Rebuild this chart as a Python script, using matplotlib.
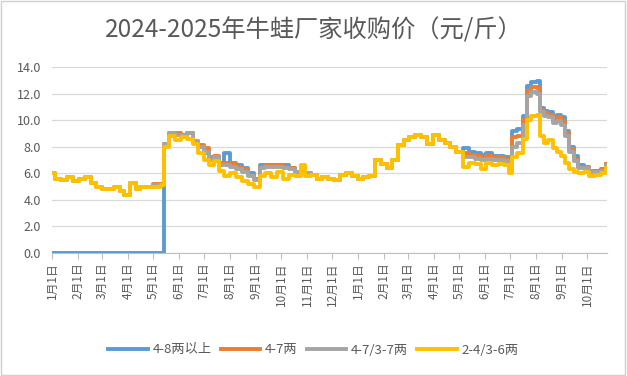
import matplotlib
matplotlib.use("Agg")
import matplotlib.pyplot as plt
import matplotlib.dates as mdates
from matplotlib.patches import Rectangle
import pandas as pd

plt.rcParams['font.family'] = ['Noto Sans CJK SC', 'DejaVu Sans']

title = "2024-2025年牛蛙厂家收购价（元/斤）"
series_names = ["4-8两以上", "4-7两", "4-7/3-7两", "2-4/3-6两"]
colors = ["#5B9BD5", "#ED7D31", "#A5A5A5", "#FFC000"]

dates = [
    "2024-01-01", "2024-01-04", "2024-01-12", "2024-01-19", "2024-01-26",
    "2024-02-02", "2024-02-09", "2024-02-16", "2024-02-23", "2024-03-01",
    "2024-03-08", "2024-03-15", "2024-03-22", "2024-03-27", "2024-04-03",
    "2024-04-10", "2024-04-15", "2024-04-24", "2024-05-01", "2024-05-10",
    "2024-05-14", "2024-05-20", "2024-05-27", "2024-06-03", "2024-06-10",
    "2024-06-17", "2024-06-24", "2024-07-01", "2024-07-06", "2024-07-12",
    "2024-07-18", "2024-07-25", "2024-08-01", "2024-08-08", "2024-08-15",
    "2024-08-22", "2024-08-29", "2024-09-05", "2024-09-12", "2024-09-19",
    "2024-09-26", "2024-10-03", "2024-10-10", "2024-10-17", "2024-10-24",
    "2024-10-29", "2024-11-05", "2024-11-12", "2024-11-19", "2024-11-26",
    "2024-12-03", "2024-12-10", "2024-12-17", "2024-12-24", "2024-12-31",
    "2025-01-07", "2025-01-14", "2025-01-21", "2025-01-28", "2025-02-04",
    "2025-02-10", "2025-02-17", "2025-02-24", "2025-03-03", "2025-03-10",
    "2025-03-17", "2025-03-24", "2025-03-31", "2025-04-07", "2025-04-14",
    "2025-04-21", "2025-04-28", "2025-05-06", "2025-05-13", "2025-05-20",
    "2025-05-27", "2025-06-03", "2025-06-10", "2025-06-17", "2025-06-24",
    "2025-06-30", "2025-07-03", "2025-07-10", "2025-07-17", "2025-07-22",
    "2025-07-26", "2025-08-02", "2025-08-06", "2025-08-11", "2025-08-16",
    "2025-08-21", "2025-08-26", "2025-08-31", "2025-09-05", "2025-09-10",
    "2025-09-15", "2025-09-20", "2025-09-27", "2025-10-04", "2025-10-11",
    "2025-10-18", "2025-10-24",
]

yellow = [
    6.0, 5.6, 5.5, 5.7, 5.4,
    5.6, 5.7, 5.3, 5.0, 4.8,
    4.8, 5.0, 4.7, 4.4, 5.3,
    4.8, 5.0, 5.0, 5.0, 5.1,
    8.0, 8.8, 8.5, 8.7, 8.6,
    8.2, 7.5, 7.0, 6.6, 6.9,
    6.2, 5.8, 6.0, 5.7, 5.4,
    5.2, 5.0, 5.8, 6.0, 5.7,
    6.1, 5.6, 5.9, 5.8, 6.6,
    5.8, 5.9, 5.6, 5.7, 5.6,
    5.5, 5.9, 6.0, 5.8, 5.6,
    5.7, 5.8, 7.0, 6.7, 6.4,
    7.0, 8.1, 8.5, 8.7, 8.9,
    8.7, 8.2, 8.9, 8.5, 8.3,
    8.0, 7.6, 6.5, 6.8, 6.7,
    6.3, 6.8, 6.6, 6.7, 6.6,
    6.0, 7.2, 7.5, 8.6, 10.0,
    10.3, 10.4, 8.8, 8.3, 8.5,
    7.9, 7.6, 7.3, 6.8, 6.3,
    6.1, 6.0, 6.1, 5.8, 5.9,
    6.0, 6.4,
]

gray = [
    6.0, 5.6, 5.5, 5.7, 5.4,
    5.6, 5.7, 5.3, 5.0, 4.8,
    4.8, 5.0, 4.7, 4.4, 5.3,
    4.8, 5.0, 5.0, 5.1, 5.1,
    8.2, 9.0, 8.9, 8.9, 9.0,
    8.4, 8.0, 7.6, 7.0, 7.2,
    6.6, 6.6, 6.5, 6.3, 6.1,
    5.8, 5.5, 6.4, 6.5, 6.5,
    6.5, 6.4, 6.3, 6.1, 6.1,
    6.0, 5.9, 5.6, 5.7, 5.6,
    5.5, 5.9, 6.0, 5.8, 5.6,
    5.7, 5.8, 7.0, 6.7, 6.4,
    7.0, 8.1, 8.5, 8.7, 8.9,
    8.7, 8.2, 8.9, 8.5, 8.3,
    8.0, 7.6, 7.2, 7.2, 7.1,
    7.0, 7.1, 7.0, 7.0, 6.9,
    6.8, 8.0, 8.3, 9.6, 11.8,
    12.1, 12.0, 10.6, 10.3, 10.2,
    9.8, 9.9, 9.6, 8.8, 7.6,
    6.9, 6.4, 6.4, 6.1, 6.1,
    6.2, 6.6,
]

orange = [
    6.0, 5.6, 5.5, 5.7, 5.4,
    5.6, 5.7, 5.3, 5.0, 4.8,
    4.8, 5.0, 4.7, 4.4, 5.3,
    4.8, 5.0, 5.0, 5.2, 5.2,
    8.2, 9.0, 9.0, 8.9, 9.0,
    8.4, 8.1, 7.9, 7.2, 7.3,
    6.8, 6.8, 6.7, 6.5, 6.3,
    5.9, 5.6, 6.5, 6.6, 6.6,
    6.6, 6.5, 6.4, 6.1, 6.1,
    6.0, 5.9, 5.6, 5.7, 5.6,
    5.5, 5.9, 6.0, 5.8, 5.6,
    5.7, 5.8, 7.0, 6.7, 6.4,
    7.0, 8.1, 8.5, 8.7, 8.9,
    8.7, 8.2, 8.9, 8.5, 8.3,
    8.0, 7.6, 7.5, 7.4, 7.3,
    7.2, 7.3, 7.2, 7.2, 7.1,
    6.9, 8.7, 8.8, 10.0, 12.2,
    12.5, 12.4, 10.8, 10.5, 10.4,
    10.1, 10.2, 9.9, 9.0, 7.8,
    7.0, 6.5, 6.5, 6.2, 6.2,
    6.3, 6.7,
]

blue = [
    0.0, 0.0, 0.0, 0.0, 0.0,
    0.0, 0.0, 0.0, 0.0, 0.0,
    0.0, 0.0, 0.0, 0.0, 0.0,
    0.0, 0.0, 0.0, 0.0, 0.0,
    8.2, 9.0, 8.9, 8.9, 9.0,
    8.4, 8.0, 7.5, 7.0, 7.2,
    6.8, 7.5, 6.8, 6.6, 6.4,
    6.0, 5.6, 6.6, 6.6, 6.6,
    6.6, 6.6, 6.4, 6.1, 6.1,
    6.0, 5.9, 5.6, 5.7, 5.6,
    5.5, 5.9, 6.0, 5.8, 5.6,
    5.7, 5.8, 7.0, 6.7, 6.4,
    7.0, 8.1, 8.5, 8.7, 8.9,
    8.7, 8.2, 8.9, 8.5, 8.3,
    8.0, 7.6, 7.9, 7.6, 7.5,
    7.4, 7.5, 7.3, 7.3, 7.2,
    7.0, 9.2, 9.3, 10.3, 12.6,
    12.9, 12.95, 10.9, 10.7, 10.6,
    10.3, 10.4, 10.2, 9.2, 8.0,
    7.3, 6.6, 6.5, 6.2, 6.2,
    6.3, 6.7,
]

y_ticks = [0, 2, 4, 6, 8, 10, 12, 14]

x = pd.to_datetime(dates)

fig = plt.figure(figsize=(6.27, 3.76), dpi=100)
ax = fig.add_axes([52/627, 1 - 253/376, 555/627, (253 - 67)/376])

for vals, c, name in zip([blue, orange, gray, yellow], colors, series_names):
    ax.plot(x, vals, color=c, lw=2.8, drawstyle='steps-post', label=name,
            solid_joinstyle='round')

ax.set_ylim(0, 14)
ax.set_yticks(y_ticks)
ax.set_yticklabels([f"{v:.1f}" for v in y_ticks])
ax.set_xlim(pd.Timestamp("2024-01-01"), pd.Timestamp("2025-10-25"))
month_ticks = pd.date_range("2024-01-01", "2025-10-01", freq="MS")
ax.set_xticks(month_ticks)
ax.set_xticklabels([f"{d.month}月1日" for d in month_ticks], rotation=90)

ax.grid(axis='y', color='#d9d9d9', lw=0.9)
ax.set_axisbelow(True)
for s in ['top', 'right', 'left']:
    ax.spines[s].set_visible(False)
ax.spines['bottom'].set_color('#bfbfbf')
ax.tick_params(axis='y', length=0, pad=8, labelsize=9, labelcolor='#595959')
ax.tick_params(axis='x', length=4, color='#bfbfbf', labelsize=8.5,
               labelcolor='#595959', pad=3)

fig.text(0.5, 1 - 30/376, title, ha='center', va='center', fontsize=17.5,
         color='#595959')

fig.legend(loc='center', bbox_to_anchor=(0.5, 1 - 350/376), ncol=4,
           frameon=False, fontsize=9.5, handlelength=3.0, handletextpad=0.35,
           columnspacing=0.7, labelcolor='#595959')

fig.patches.append(Rectangle((0.002, 0.003), 0.995, 0.994, transform=fig.transFigure,
                             fill=False, edgecolor='#d0d0d0', lw=1))

fig.savefig("out.png", dpi=100)
